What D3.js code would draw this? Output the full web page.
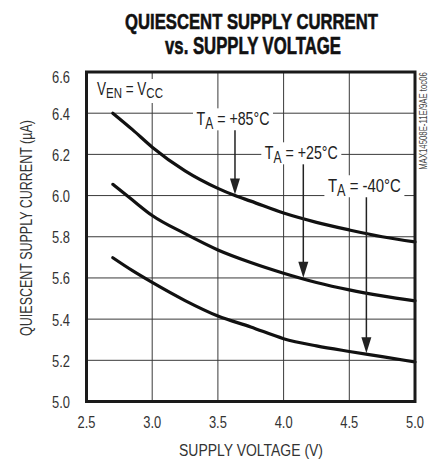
<!DOCTYPE html>
<html><head><meta charset="utf-8">
<script src="https://cdn.jsdelivr.net/npm/d3@7"></script>
<style>body{margin:0;background:#fff}</style>
</head><body><svg id="c" width="443" height="464"></svg>
<script>
// ---- data ----
const xTickValues = [2.5, 3.0, 3.5, 4.0, 4.5, 5.0];
const yTickValues = [5.0, 5.2, 5.4, 5.6, 5.8, 6.0, 6.2, 6.4, 6.6];
const seriesLabels = ["+85°C", "+25°C", "-40°C"];

const voltage85 = [2.70, 2.85, 3.00, 3.25, 3.50, 3.63, 3.75, 4.00, 4.25, 4.50, 4.75, 5.00];
const current85 = [6.400, 6.320, 6.235, 6.120, 6.035, 6.000, 5.973, 5.915, 5.870, 5.833, 5.800, 5.775];

const voltage25 = [2.70, 2.85, 3.00, 3.25, 3.50, 3.75, 4.00, 4.25, 4.50, 4.75, 5.00];
const current25 = [6.055, 5.978, 5.903, 5.815, 5.736, 5.675, 5.623, 5.578, 5.542, 5.513, 5.489];

const voltageM40 = [2.70, 2.85, 3.00, 3.25, 3.50, 3.75, 4.00, 4.25, 4.50, 4.75, 5.00];
const currentM40 = [5.698, 5.635, 5.578, 5.490, 5.415, 5.362, 5.305, 5.270, 5.243, 5.218, 5.192];

const arrowVoltage = [3.63, 4.15, 4.63];   // where each label's arrow points
const labelCurrent = [6.375, 6.21, 6.05];  // vertical centre of each label (data units)

// ---- layout ----
const FONT = "'Liberation Sans Narrow','Liberation Sans',Arial,sans-serif";
const plot = {left: 86.5, right: 415, top: 72, bottom: 401.5};
const x = d3.scaleLinear().domain([2.5, 5.0]).range([plot.left, plot.right]);
const y = d3.scaleLinear().domain([5.0, 6.6]).range([plot.bottom, plot.top]);
const svg = d3.select("#c");
const tickK = 0.76;

function fitText(parent, opt, build) {
  const g = parent.append("g");
  const t = g.append("text").attr("x", 0).attr("y", 0)
    .attr("text-anchor", opt.anchor || "middle")
    .attr("font-family", FONT)
    .attr("font-size", opt.size)
    .attr("font-weight", opt.weight || "normal")
    .attr("fill", opt.fill || "#222");
  if (opt.stroke) t.attr("stroke", opt.fill).attr("stroke-width", opt.stroke);
  build(t);
  let k = opt.k || 1;
  if (opt.width) k = opt.width / t.node().getBBox().width;
  g.attr("transform", `translate(${opt.x},${opt.y}) rotate(${opt.rotate || 0}) scale(${k},1)`);
  return g;
}

// ---- title ----
fitText(svg, {x: 251.5, y: 28.5, size: 23, weight: "bold", fill: "#111", stroke: 0.6, width: 253},
  t => t.text("QUIESCENT SUPPLY CURRENT"));
fitText(svg, {x: 253, y: 53.5, size: 23, weight: "bold", fill: "#111", stroke: 0.6, width: 176},
  t => t.text("vs. SUPPLY VOLTAGE"));

// ---- gridlines ----
const grid = svg.append("g");
grid.selectAll(".gx").data(xTickValues).join("line")
  .attr("x1", d => x(d)).attr("x2", d => x(d))
  .attr("y1", plot.top).attr("y2", plot.bottom)
  .attr("stroke", "#3a3a3a").attr("stroke-width", 1);
grid.selectAll(".gy").data(yTickValues).join("line")
  .attr("y1", d => y(d)).attr("y2", d => y(d))
  .attr("x1", plot.left).attr("x2", plot.right)
  .attr("stroke", "#3a3a3a").attr("stroke-width", 1);

// ---- tick labels ----
const fmt = d3.format(".1f");
yTickValues.forEach(v => {
  fitText(svg, {x: 70, y: Math.max(y(v), plot.top + 4) + 6.5, size: 17, anchor: "end", k: tickK, fill: "#333"},
    t => t.text(fmt(v)));
});
xTickValues.forEach(v => {
  fitText(svg, {x: x(v), y: plot.bottom + 26, size: 17, anchor: "middle", k: tickK, fill: "#333"},
    t => t.text(fmt(v)));
});

// ---- axis titles ----
fitText(svg, {x: 251, y: 455.5, size: 17, width: 144, fill: "#333"},
  t => t.text("SUPPLY VOLTAGE (V)"));
fitText(svg, {x: 31.5, y: 228, size: 17, width: 216, rotate: -90, fill: "#333"},
  t => t.text("QUIESCENT SUPPLY CURRENT (µA)"));
fitText(svg, {x: 427, y: 121, size: 11, width: 98, rotate: -90, fill: "#444"},
  t => t.text("MAX14508E-11E/9AE toc06"));

// ---- series ----
const series = [
  {v: voltage85, c: current85},
  {v: voltage25, c: current25},
  {v: voltageM40, c: currentM40}
];
function interp(s, v) {
  const i = d3.bisectLeft(s.v, v);
  const a = Math.max(0, i - 1), b = Math.min(s.v.length - 1, i);
  if (a === b) return s.c[a];
  const f = (v - s.v[a]) / (s.v[b] - s.v[a]);
  return s.c[a] + f * (s.c[b] - s.c[a]);
}
const boxLayer = svg.append("g");
const curveLayer = svg.append("g");
const labelLayer = svg.append("g");

// V_EN = V_CC
fitText(labelLayer, {x: 97, y: 95, size: 18, anchor: "start", width: 66, fill: "#222"}, t => {
  t.append("tspan").text("V");
  t.append("tspan").attr("font-size", "0.85em").attr("dy", 3).text("EN");
  t.append("tspan").attr("dy", -3).text(" = V");
  t.append("tspan").attr("font-size", "0.85em").attr("dy", 3).text("CC");
});
boxLayer.append("rect").attr("x", 94).attr("y", 79).attr("width", 72).attr("height", 24).attr("fill", "#fff");

const line = d3.line().x(d => x(d[0])).y(d => y(d[1])).curve(d3.curveMonotoneX);
series.forEach(s => {
  curveLayer.append("path").attr("d", line(s.v.map((v, i) => [v, s.c[i]])))
    .attr("fill", "none").attr("stroke", "#111").attr("stroke-width", 3.2)
    .attr("stroke-linecap", "round").attr("stroke-linejoin", "round");
});

seriesLabels.forEach((lab, i) => {
  const cx = x(arrowVoltage[i]) - 2;
  const cy = y(labelCurrent[i]);
  fitText(labelLayer, {x: cx, y: cy + 6.5, size: 19, anchor: "middle", width: 73, fill: "#222"}, t => {
    t.append("tspan").text("T");
    t.append("tspan").attr("font-size", "0.85em").attr("dy", 4).text("A");
    t.append("tspan").attr("dy", -4).text(" = " + lab);
  });
  boxLayer.append("rect").attr("x", cx - 40).attr("y", cy - 10).attr("width", 80).attr("height", 22).attr("fill", "#fff");
  const ax = x(arrowVoltage[i]);
  const tipY = y(interp(series[i], arrowVoltage[i])) - 1;
  const startY = cy + 12;
  curveLayer.append("line").attr("x1", ax).attr("x2", ax).attr("y1", startY).attr("y2", tipY - 12)
    .attr("stroke", "#222").attr("stroke-width", 1.5);
  curveLayer.append("path")
    .attr("d", `M${ax - 5},${tipY - 16} L${ax + 5},${tipY - 16} L${ax},${tipY} Z`)
    .attr("fill", "#222");
});

// ---- frame ----
svg.append("rect").attr("x", plot.left).attr("y", plot.top)
  .attr("width", plot.right - plot.left).attr("height", plot.bottom - plot.top)
  .attr("fill", "none").attr("stroke", "#1a1a1a").attr("stroke-width", 3);
</script>
</body></html>
